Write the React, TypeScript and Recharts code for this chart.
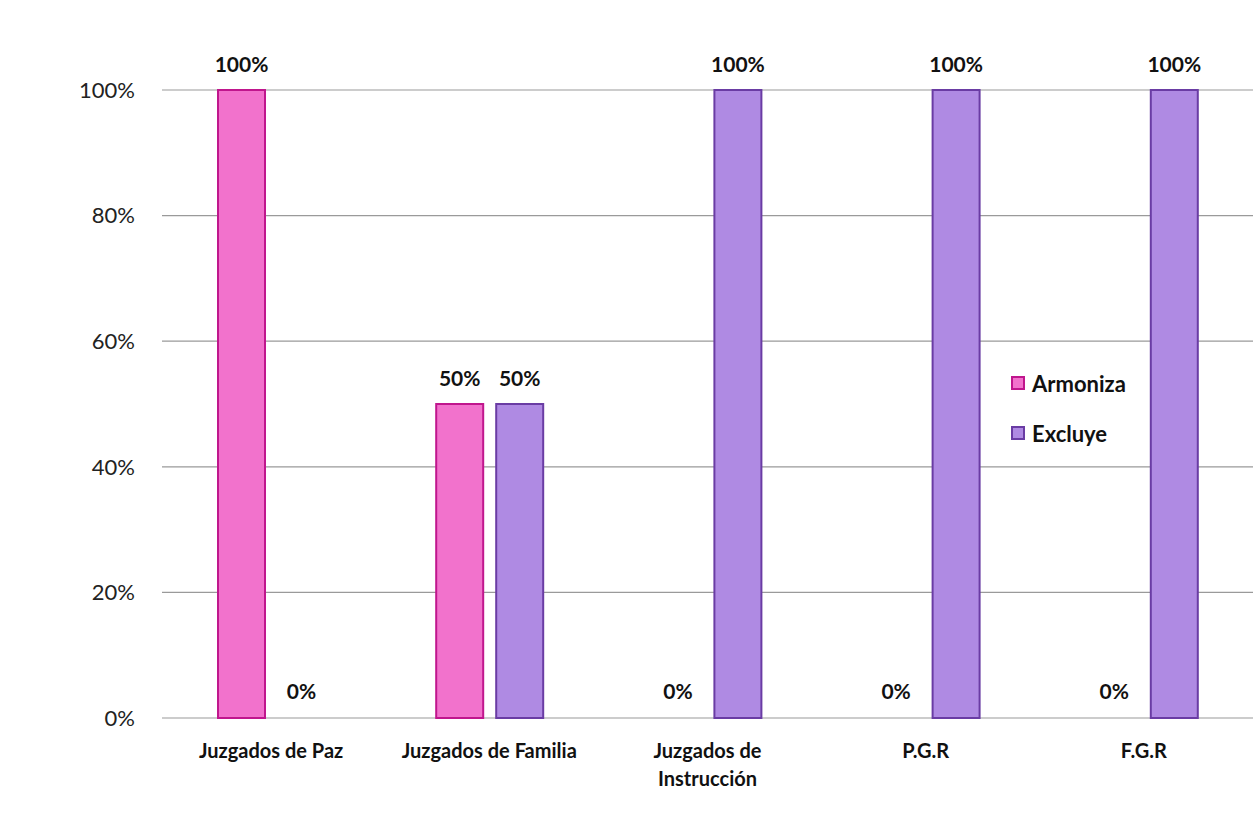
import React from "react";
import { BarChart, Bar, XAxis, YAxis, CartesianGrid, Legend, LabelList, Cell } from "recharts";

const categories = ["Juzgados de Paz", "Juzgados de Familia", "Juzgados de Instrucción", "P.G.R", "F.G.R"];
const tickLines: string[][] = [
  ["Juzgados de Paz"],
  ["Juzgados de Familia"],
  ["Juzgados de", "Instrucción"],
  ["P.G.R"],
  ["F.G.R"],
];
const armoniza = [100, 50, 0, 0, 0];
const excluye = [0, 50, 100, 100, 100];
const yTicks = [0, 20, 40, 60, 80, 100];

const seriesNames = ["Armoniza", "Excluye"];
const pinkFill = "#F272CC";
const pinkStroke = "#C0168D";
const purpleFill = "#AF8AE3";
const purpleStroke = "#6A3CA4";

const data = categories.map((c, i) => ({
  name: c,
  Armoniza: armoniza[i],
  Excluye: excluye[i],
}));

const FONT = "Lato, 'Open Sans', sans-serif";

const XTick = (props: any) => {
  const { x, y, index } = props;
  const lines = tickLines[index] || [String(props.payload?.value)];
  return (
    <g>
      {lines.map((l, i) => (
        <text
          key={i}
          x={x}
          y={y + 38 + i * 28}
          textAnchor="middle"
          fontFamily={FONT}
          fontWeight={700}
          fontSize={20}
          fill="#111"
        >
          {l}
        </text>
      ))}
    </g>
  );
};

const LegendContent = () => {
  const colors = [
    [pinkFill, pinkStroke],
    [purpleFill, purpleStroke],
  ];
  return (
    <div style={{ fontFamily: FONT }}>
      {seriesNames.map((n, i) => (
        <div key={n} style={{ display: "flex", alignItems: "center", height: 50 }}>
          <span
            style={{
              display: "inline-block",
              width: 10,
              height: 10,
              background: colors[i][0],
              border: `2px solid ${colors[i][1]}`,
              marginRight: 7,
            }}
          />
          <span style={{ fontWeight: 700, fontSize: 22, color: "#111" }}>{n}</span>
        </div>
      ))}
    </div>
  );
};

const labelFmt = (v: any) => `${v}%`;
const minSize = (v: any) => (v === 0 ? 1 : 0);
const labelStyle = { fontFamily: FONT, fontWeight: 700, fontSize: 21, fill: "#111" };

export default function App() {
  return (
    <div style={{ position: "absolute", left: 0, top: 0, background: "#fff" }}>
      <BarChart
        width={1253}
        height={821}
        data={data}
        margin={{ top: 90, right: 0, left: 0, bottom: 0 }}
        barSize={47}
        barGap={13}
      >
        <CartesianGrid vertical={false} stroke="#9a9a9a" strokeWidth={1.2} />
        <XAxis
          dataKey="name"
          height={103}
          axisLine={false}
          tickLine={false}
          tickSize={0}
          interval={0}
          tick={<XTick />}
        />
        <YAxis
          width={162}
          domain={[0, 100]}
          ticks={yTicks}
          axisLine={false}
          tickLine={false}
          tickSize={0}
          tickMargin={27}
          tickFormatter={(v: number) => `${v}%`}
          tick={{ fontFamily: FONT, fontSize: 22, fill: "#222" }}
        />
        <Legend
          layout="vertical"
          align="center"
          verticalAlign="middle"
          content={<LegendContent />}
          wrapperStyle={{ left: 1011, top: 358, width: 170 }}
        />
        <Bar
          dataKey="Armoniza"
          fill={pinkFill}
          stroke={pinkStroke}
          strokeWidth={2}
          minPointSize={minSize}
          isAnimationActive={false}
        >
          {armoniza.map((v, i) => (
            <Cell
              key={i}
              fill={v === 0 ? "transparent" : pinkFill}
              stroke={v === 0 ? "none" : pinkStroke}
            />
          ))}
          <LabelList dataKey="Armoniza" position="top" offset={18} formatter={labelFmt} style={labelStyle} />
        </Bar>
        <Bar
          dataKey="Excluye"
          fill={purpleFill}
          stroke={purpleStroke}
          strokeWidth={2}
          minPointSize={minSize}
          isAnimationActive={false}
        >
          {excluye.map((v, i) => (
            <Cell
              key={i}
              fill={v === 0 ? "transparent" : purpleFill}
              stroke={v === 0 ? "none" : purpleStroke}
            />
          ))}
          <LabelList dataKey="Excluye" position="top" offset={18} formatter={labelFmt} style={labelStyle} />
        </Bar>
      </BarChart>
    </div>
  );
}
